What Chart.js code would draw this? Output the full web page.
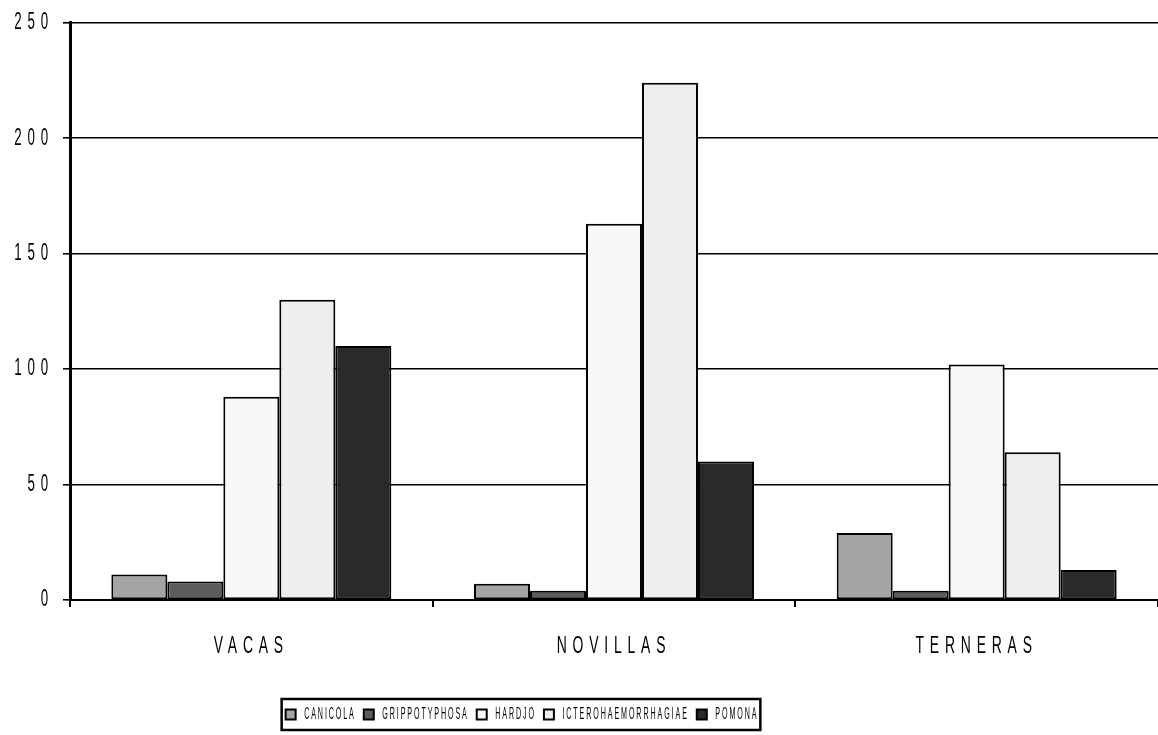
<!DOCTYPE html>
<html>
<head>
<meta charset="utf-8">
<script src="https://cdn.jsdelivr.net/npm/chart.js@4.4.1/dist/chart.umd.min.js"></script>
<style>
  html, body { margin: 0; padding: 0; background: #ffffff; }
  #wrap { width: 1158px; height: 735px; }
</style>
</head>
<body>
<div id="wrap"><canvas id="c"></canvas></div>
<script>
// Categories and series
const categories = ['VACAS', 'NOVILLAS', 'TERNERAS'];
const seriesNames = ['CANICOLA', 'GRIPPOTYPHOSA', 'HARDJO', 'ICTEROHAEMORRHAGIAE', 'POMONA'];
const canicola = [11, 7, 29];
const grippotyphosa = [8, 4, 4];
const hardjo = [88, 163, 102];
const icterohaemorrhagiae = [130, 224, 64];
const pomona = [110, 60, 13];
const yTicks = [0, 50, 100, 150, 200, 250];

const fills = ['#a4a4a4', '#5c5c5c', '#f8f8f8', '#eeeeee', '#2a2a2a'];
const seriesValues = [canicola, grippotyphosa, hardjo, icterohaemorrhagiae, pomona];

const FONT = '"Liberation Sans", Arial, sans-serif';
const X_SIZE = 24, Y_SIZE = 23, LEGEND_SIZE = 17;

// Narrow, widely spaced lettering: each label is drawn horizontally
// condensed (fillText maxWidth) with a letter spacing picked by font size.
const canvas = document.getElementById('c');
const ctx2d = canvas.getContext('2d');
function textStyle(font) {
  const m = /(\d+(?:\.\d+)?)px/.exec(font);
  const px = m ? +m[1] : 12;
  if (px >= Y_SIZE) return { spacing: 10, condense: 0.58 };
  return { spacing: 4.5, condense: 0.42 };
}
const nativeMeasure = ctx2d.measureText.bind(ctx2d);
const nativeFill = ctx2d.fillText.bind(ctx2d);
ctx2d.measureText = function (text) {
  const st = textStyle(ctx2d.font);
  ctx2d.letterSpacing = st.spacing + 'px';
  const m = nativeMeasure(text);
  return {
    width: m.width * st.condense,
    actualBoundingBoxAscent: m.actualBoundingBoxAscent,
    actualBoundingBoxDescent: m.actualBoundingBoxDescent,
    actualBoundingBoxLeft: m.actualBoundingBoxLeft * st.condense,
    actualBoundingBoxRight: m.actualBoundingBoxRight * st.condense
  };
};
ctx2d.fillText = function (text, x, y) {
  const st = textStyle(ctx2d.font);
  ctx2d.letterSpacing = st.spacing + 'px';
  const w = nativeMeasure(text).width;
  nativeFill(text, x, y, Math.max(1, w * st.condense));
};

// legend sits a little left of the page centre, inside a frame
const LEGEND_SHIFT = -57;
const legendFrame = {
  id: 'legendFrame',
  afterLayout(chart) {
    const lg = chart.legend;
    if (!lg) return;
    lg.left += LEGEND_SHIFT;
    lg.right += LEGEND_SHIFT;
  },
  afterDraw(chart) {
    const lg = chart.legend;
    if (!lg || !lg.legendHitBoxes || !lg.legendHitBoxes.length) return;
    const boxes = lg.legendHitBoxes;
    let l = Infinity, r = -Infinity, t = Infinity, b = -Infinity;
    boxes.forEach(h => {
      l = Math.min(l, h.left); r = Math.max(r, h.left + h.width);
      t = Math.min(t, h.top); b = Math.max(b, h.top + h.height);
    });
    const ctx = chart.ctx;
    ctx.save();
    ctx.strokeStyle = '#000';
    ctx.lineWidth = 2.5;
    ctx.strokeRect(l - 4, t - 7, (r - l) + 6, (b - t) + 14);
    ctx.restore();
  }
};

new Chart(canvas, {
  type: 'bar',
  data: {
    labels: categories,
    datasets: seriesNames.map((name, i) => ({
      label: name,
      data: seriesValues[i],
      backgroundColor: fills[i],
      borderColor: '#000000',
      borderWidth: 2,
      borderSkipped: false,
      barPercentage: 1.0,
      categoryPercentage: 0.772
    }))
  },
  options: {
    responsive: true,
    maintainAspectRatio: false,
    animation: false,
    layout: { padding: { top: 7, right: 0, bottom: 2, left: 0 } },
    plugins: {
      tooltip: { enabled: false },
      legend: {
        position: 'bottom',
        labels: {
          boxWidth: 10,
          boxHeight: 10,
          padding: 8,
          color: '#000',
          font: { family: FONT, size: LEGEND_SIZE },
          generateLabels(chart) {
            return chart.data.datasets.map((ds, i) => ({
              text: ds.label,
              fillStyle: ds.backgroundColor,
              strokeStyle: '#000',
              lineWidth: 2,
              hidden: false,
              datasetIndex: i
            }));
          }
        }
      }
    },
    scales: {
      x: {
        offset: true,
        afterFit(scale) { scale.height = 98; },
        border: { display: true, color: '#000', width: 2 },
        grid: { display: true, offset: true, drawOnChartArea: false, color: '#000', lineWidth: 2, tickLength: 7 },
        ticks: { color: '#000', font: { family: FONT, size: X_SIZE }, padding: 25 }
      },
      y: {
        min: 0,
        max: 250,
        afterFit(scale) { scale.width = 70; },
        afterBuildTicks(scale) { scale.ticks = yTicks.map(v => ({ value: v })); },
        border: { display: true, color: '#000', width: 3 },
        grid: { color: '#000', lineWidth: 1.6, tickLength: 7 },
        ticks: { color: '#000', font: { family: FONT, size: Y_SIZE }, padding: 9 }
      }
    }
  },
  plugins: [legendFrame]
});
</script>
</body>
</html>
